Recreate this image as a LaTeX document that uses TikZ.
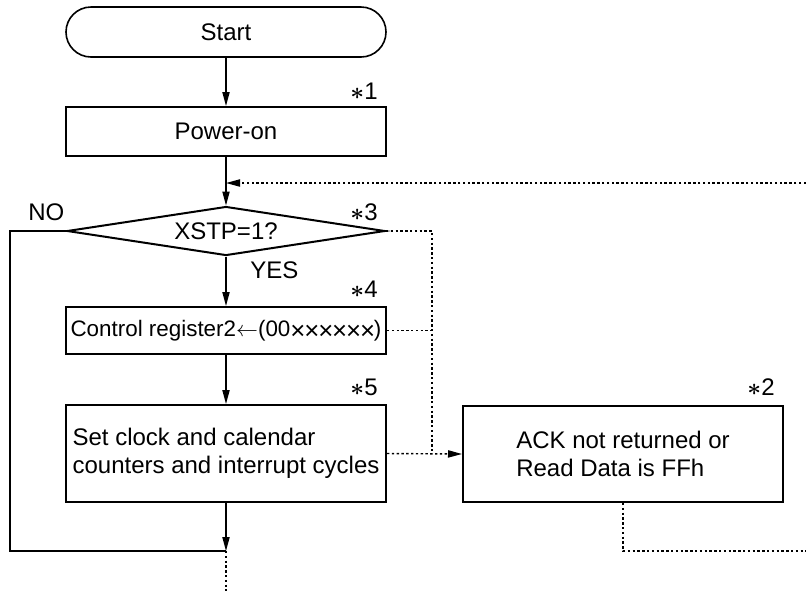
\documentclass[tikz,border=0pt]{standalone}
\usepackage{fontspec}
\usepackage{graphicx}
\setmainfont{Liberation Sans}
\usetikzlibrary{positioning,shapes.geometric,arrows.meta,calc}
\newcommand\crossmark{\raisebox{-0.15em}{\scalebox{1.15}{×}}\kern-0.05em}
\newcommand\stepno[1]{{\boldmath$\ast$}#1}
\tikzset{
  >={Triangle[length=7pt,width=3.6pt]},
  every node/.style={font=\fontsize{12}{14}\selectfont},
  % --- nodes
  proc/.style = {draw, line width=1pt, minimum width=160pt, minimum height=24.5pt,
                 inner sep=2pt, align=center},
  term/.style = {proc, line width=0.8pt, rounded corners=12.5pt, minimum height=25pt},
  dec/.style  = {draw, diamond, aspect=6.5, line width=1pt, minimum width=159pt,
                 minimum height=24.5pt, inner sep=0pt},
  note/.style = {anchor=base east, inner sep=0pt},
  lbl/.style  = {anchor=base west, inner sep=0pt},
  % --- edges
  e/.style     = {->, line width=0.65pt},
  eline/.style = {line width=0.65pt},
  ed/.style    = {line width=0.7pt, dash pattern=on 1.2pt off 1.2pt},
}
\begin{document}
\begin{tikzpicture}[x=0.5pt,y=-0.5pt]
  \useasboundingbox (0,0) rectangle (806,591);
  \node[term] (start) at (226,32) {Start};
  \node[proc] (pwr) at (226,131.5) {Power-on};
  \node[dec] (xstp) at (226,231) {XSTP=1?};
  \node[proc, minimum height=23.5pt, font=\fontsize{11.2}{13}\selectfont] (ctrl) at (226,330.5)
    {Control register2$\leftarrow$(00\crossmark\crossmark\crossmark\crossmark\crossmark\crossmark)};
  \node[proc, minimum height=48.5pt, align=left] (set) at (226,453.5)
    {Set clock and calendar\\counters and interrupt cycles};
  \node[proc, minimum height=48pt, align=left] (ack) at (623,454)
    {ACK not returned or\\Read Data is FFh};

  % --- notes
  \node[note] (n1) at (378,99) {\stepno{1}};
  \node[note] (n3) at (378,220) {\stepno{3}};
  \node[note] (n4) at (378,297) {\stepno{4}};
  \node[note] (n5) at (378,395) {\stepno{5}};
  \node[note] (n2) at (775,395) {\stepno{2}};
  \node[lbl] (no) at (28,220) {NO};
  \node[lbl] (yes) at (250,278) {YES};

  \coordinate (back) at (806,183);
  \coordinate (merge) at (226,183);
  \coordinate (bus) at (432,231);
  \coordinate (join) at (226,551);
  \coordinate (out) at (226,591);
  \coordinate (exit) at (806,551);

  \draw[e] (start) -- (pwr);
  \draw[e] (pwr) -- (xstp);
  \draw[e] (xstp) -- (ctrl);
  \draw[e] (ctrl) -- (set);
  \draw[e] (set) -- (join);
  \draw[eline] (xstp.west) -- ++(-56,0) |- (join);
  \draw[ed, ->] (back) -- (merge);
  \draw[ed] (xstp.east) -- (bus) -- (bus |- set.east);
  \draw[ed] (ctrl.east) -- (bus |- ctrl.east);
  \draw[ed, ->] (set.east) -- (ack.west);
  \draw[ed] (ack.south) |- (exit);
  \draw[ed] (join) -- (out);
\end{tikzpicture}
\end{document}
